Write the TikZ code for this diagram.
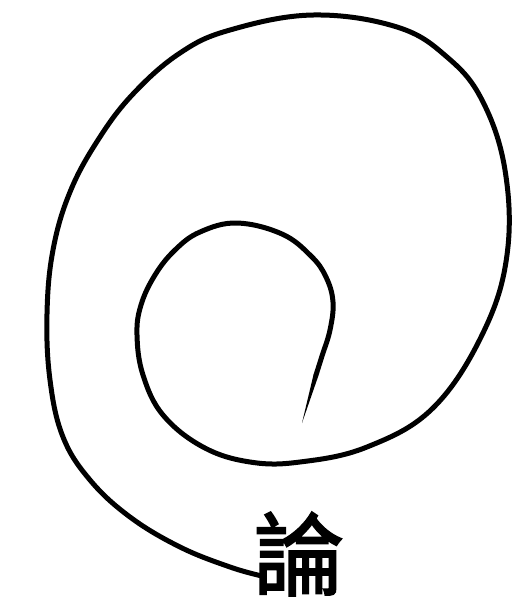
\documentclass[tikz,border=0pt]{standalone}
\usepackage{fontspec}
\newfontfamily\cjk[FakeBold=2.2]{Noto Sans CJK TC}
\begin{document}
\begin{tikzpicture}[x=1pt,y=-1pt,
  spiral/.style={line width=5pt,line cap=round,line join=round},
  glyph/.style={font=\cjk\fontsize{90}{90}\selectfont,inner sep=0pt}]
\useasboundingbox (0,0) rectangle (522,614);
\node[glyph] (lun) at (299,554) {論};
\coordinate (tip) at (302,423);
\coordinate (mid) at (316,375);
\fill (tip) -- (313.6,374.3) -- (318.4,375.7) -- cycle;
\draw[spiral] plot[smooth,tension=0.65] coordinates {
 (316,375) (322,356) (330,330) (333,302) (326,277) (311,256) (282,234)
 (237,223) (200,232) (175,250) (155,275) (141,305) (137,335) (143,375)
 (163,415) (203,447) (250,462) (300,462)
 (367,447) (433,408) (483,333) (507,255) (505,170) (482,100) (447,57)
 (397,27) (313,15) (230,30) (180,53) (133,94) (98,140) (70,192)
 (53,250) (47,314) (50,380) (63,437) (90,480) (130,517) (180,547)
 (230,567) (262,576)};
\end{tikzpicture}
\end{document}
